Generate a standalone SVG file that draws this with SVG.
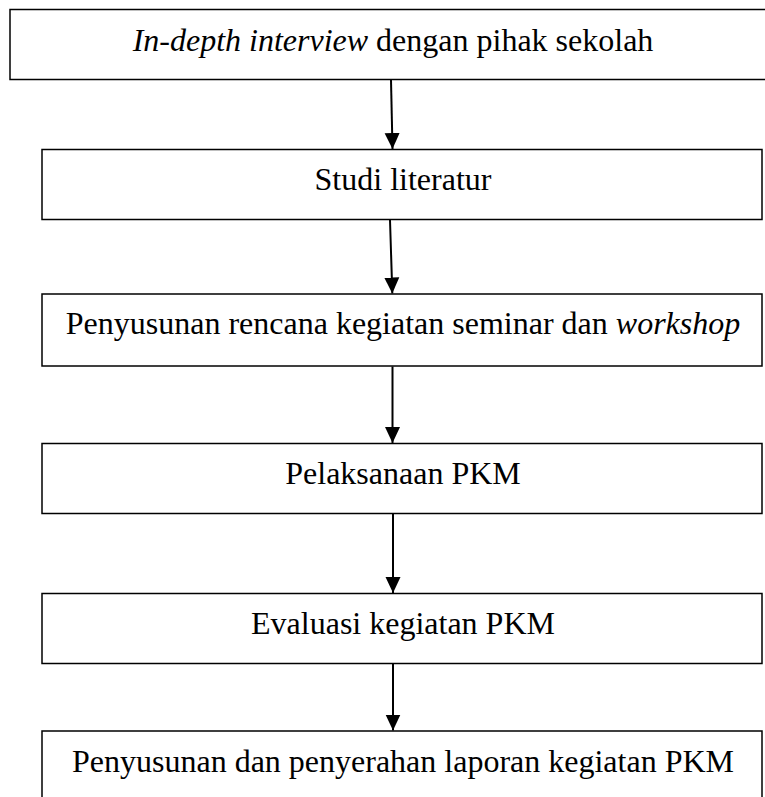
<svg xmlns="http://www.w3.org/2000/svg" width="765" height="797" viewBox="0 0 765 797">
<style>
.box{fill:#fff;stroke:#000;stroke-width:1.5}
.lbl{font-family:"Liberation Serif","Times New Roman",serif;font-size:32px;fill:#000;text-anchor:middle}
.it{font-style:italic}
.conn{stroke:#000;stroke-width:2;fill:none}
</style>
<defs>
<marker id="ah" markerUnits="userSpaceOnUse" markerWidth="16" markerHeight="16" viewBox="0 0 16 16" refX="16" refY="8" orient="auto">
<path d="M0,0.5 L16,8 L0,15.5 Z" fill="#000"/>
</marker>
</defs>
<rect width="765" height="797" fill="#fff"/>
<g id="node1"><rect class="box" x="10" y="9.5" width="770" height="70"/><text class="lbl" x="393" y="51"><tspan class="it">In-depth interview</tspan> dengan pihak sekolah</text></g>
<g id="node2"><rect class="box" x="42" y="149.5" width="720" height="70"/><text class="lbl" x="403" y="189.5">Studi literatur</text></g>
<g id="node3"><rect class="box" x="42" y="294" width="720" height="72"/><text class="lbl" x="403" y="333.5">Penyusunan rencana kegiatan seminar dan <tspan class="it">workshop</tspan></text></g>
<g id="node4"><rect class="box" x="42" y="443.5" width="720" height="70"/><text class="lbl" x="403" y="483.5">Pelaksanaan PKM</text></g>
<g id="node5"><rect class="box" x="42" y="593.5" width="720" height="70"/><text class="lbl" x="403" y="633.5">Evaluasi kegiatan PKM</text></g>
<g id="node6"><rect class="box" x="42" y="731" width="720" height="80"/><text class="lbl" x="403" y="771.5">Penyusunan dan penyerahan laporan kegiatan PKM</text></g>
<g id="connectors">
<line class="conn" x1="391" y1="80" x2="392.5" y2="149" marker-end="url(#ah)"/>
<line class="conn" x1="390" y1="220" x2="392.3" y2="293.5" marker-end="url(#ah)"/>
<line class="conn" x1="392.5" y1="366.5" x2="392.5" y2="443" marker-end="url(#ah)"/>
<line class="conn" x1="393" y1="514" x2="393" y2="593" marker-end="url(#ah)"/>
<line class="conn" x1="393" y1="664" x2="393" y2="730.5" marker-end="url(#ah)"/>
</g>
</svg>
